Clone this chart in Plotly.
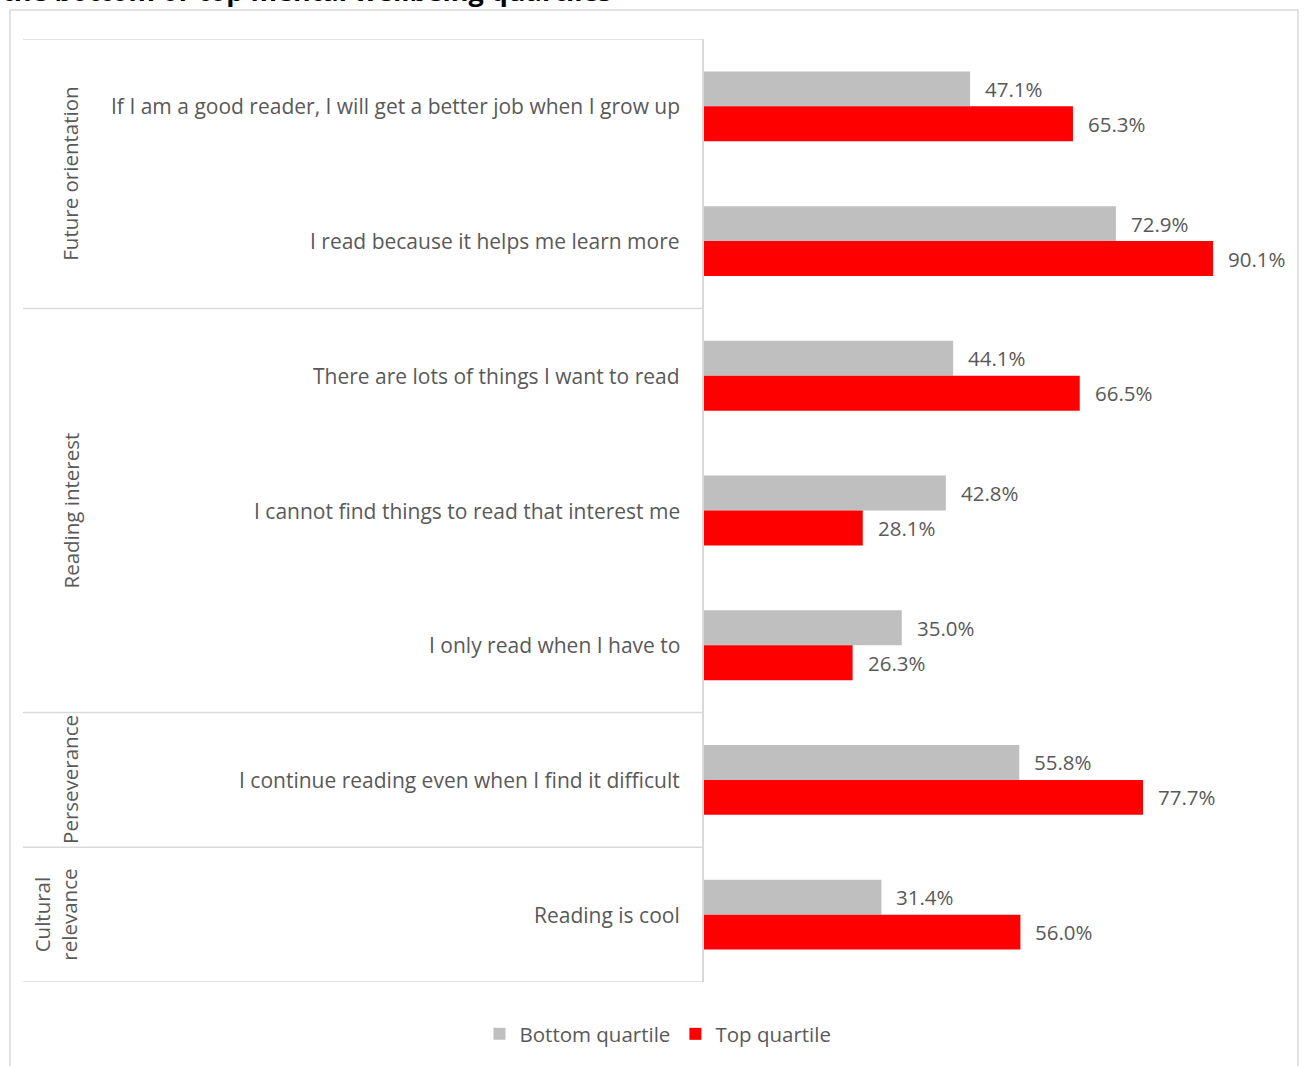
import plotly.graph_objects as go

# Survey items (top to bottom) and the theme each item belongs to
items = [
    "If I am a good reader, I will get a better job when I grow up",
    "I read because it helps me learn more",
    "There are lots of things I want to read",
    "I cannot find things to read that interest me",
    "I only read when I have to",
    "I continue reading even when I find it difficult",
    "Reading is cool",
]
groups = ["Future orientation", "Reading interest", "Perseverance", "Cultural<br>relevance"]
group_sizes = [2, 3, 1, 1]

bottom_quartile = [47.1, 72.9, 44.1, 42.8, 35.0, 55.8, 31.4]
top_quartile = [65.3, 90.1, 66.5, 28.1, 26.3, 77.7, 56.0]
series_names = ["Bottom quartile", "Top quartile"]
series_colors = ["#bfbfbf", "#ff0000"]

FONT = "Open Sans"
FS = 21
TEXT = "#595959"
LINE = "#d9d9d9"

W, H = 1304, 1066
M_L, M_R, M_T, M_B = 704, 35, 39, 84
PW = W - M_L - M_R
PH = H - M_T - M_B


def px_x(p):
    return (p - M_L) / PW


def px_y(p):
    return (H - M_B - p) / PH


ypos = list(range(len(items)))

fig = go.Figure()
for name, vals, col in zip(series_names, [bottom_quartile, top_quartile], series_colors):
    fig.add_trace(go.Bar(
        y=ypos, x=vals, name=name, orientation="h",
        marker=dict(color=col, line=dict(width=0)),
    ))

annotations = []
# value labels beside each bar
for vals, shift in [(bottom_quartile, 17.5), (top_quartile, -17.5)]:
    for i, v in enumerate(vals):
        annotations.append(dict(
            x=v, y=i, xref="x", yref="y", text=f"{v:.1f}%",
            xanchor="left", yanchor="middle", xshift=13, yshift=shift,
            showarrow=False, font=dict(family=FONT, size=FS - 0.5, color=TEXT),
        ))

# item labels
for i, t in enumerate(items):
    annotations.append(dict(
        x=0, y=i, xref="paper", yref="y", text=t,
        xanchor="right", yanchor="middle", xshift=-22,
        showarrow=False, font=dict(family=FONT, size=FS, color=TEXT),
    ))

# theme labels and separator lines
shapes = []
start = 0
bounds = [-0.5]
for g, n in zip(groups, group_sizes):
    mid = start + (n - 1) / 2
    two_line = "<br>" in g
    annotations.append(dict(
        x=px_x(56 if two_line else 70), y=mid, xref="paper", yref="y", text=g,
        textangle=-90, xanchor="center", yanchor="middle",
        showarrow=False, font=dict(family=FONT, size=FS - 0.5, color=TEXT),
    ))
    start += n
    bounds.append(start - 0.5)

for b in bounds:
    shapes.append(dict(
        type="line", xref="paper", yref="y", x0=px_x(23), x1=0, y0=b, y1=b,
        line=dict(color=LINE, width=1.5),
    ))

# chart frame
shapes.append(dict(
    type="rect", xref="paper", yref="paper",
    x0=px_x(10), x1=px_x(1298), y0=px_y(1080), y1=px_y(10),
    line=dict(color=LINE, width=1.5), fillcolor="rgba(0,0,0,0)", layer="below",
))

# title (partly above the visible page)
annotations.append(dict(
    x=px_x(0), y=px_y(11), xref="paper", yref="paper",
    text="<b>the bottom or top mental wellbeing quartiles</b>",
    xanchor="left", yanchor="bottom", showarrow=False,
    font=dict(family=FONT, size=27, color="#000000"),
))

fig.update_layout(
    width=W, height=H,
    margin=dict(l=M_L, r=M_R, t=M_T, b=M_B),
    paper_bgcolor="white", plot_bgcolor="white",
    barmode="group", bargap=65 / 135, bargroupgap=0,
    xaxis=dict(range=[0, 100], visible=False, fixedrange=True),
    yaxis=dict(
        range=[len(items) - 0.5, -0.5], showticklabels=False, showgrid=False,
        zeroline=False, showline=True, linecolor=LINE, linewidth=1.5, ticks="",
    ),
    showlegend=True,
    legend=dict(
        orientation="h", x=px_x(658), xanchor="center", y=px_y(1034), yanchor="middle",
        font=dict(family=FONT, size=FS - 0.5, color=TEXT), itemwidth=30, traceorder="normal",
    ),
    annotations=annotations,
    shapes=shapes,
)

fig.write_html("out.html")
